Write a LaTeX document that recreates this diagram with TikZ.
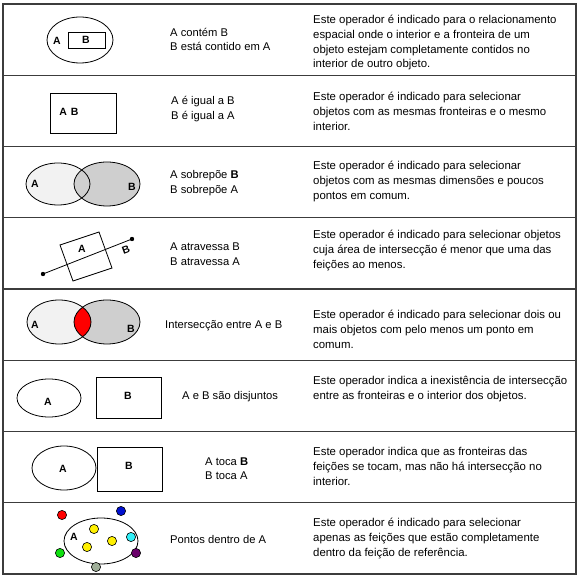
\documentclass[tikz,border=0pt]{standalone}
\usepackage{fontspec}
\setmainfont{Liberation Sans}
\usepackage{tikz}
\usetikzlibrary{positioning,shapes.geometric,calc}
\definecolor{rulegray}{HTML}{3C3C3C}
\definecolor{setlight}{HTML}{F2F2F2}
\definecolor{setdark}{HTML}{CFCFCF}
\definecolor{ptred}{HTML}{FF0000}
\definecolor{ptblue}{HTML}{0010D0}
\definecolor{ptyellow}{HTML}{FFF000}
\definecolor{ptcyan}{HTML}{30F0F8}
\definecolor{ptgreen}{HTML}{10E010}
\definecolor{ptpurple}{HTML}{6A006A}
\definecolor{ptgray}{HTML}{9FAE98}

\begin{document}
\begin{tikzpicture}[x=1pt, y=-1pt, inner sep=0pt,
  desc/.style={anchor=west, align=left, font=\fontsize{11.4}{14.8}\selectfont},
  rel/.style={anchor=west, align=left, font=\fontsize{11.2}{14.5}\selectfont},
  lbl/.style={font=\fontsize{10.5}{12}\selectfont\bfseries},
  shp/.style={draw=black, line width=0.8pt},
  pt/.style={draw=black, line width=0.6pt}]
  \useasboundingbox (0,0) rectangle (579,577);

  % table
  \draw[rulegray, line width=1.3pt] (3,4) rectangle (576,574);
  \foreach \yy in {75.25,146.5,217.75,289,360.25,431.5,502.75}
    \draw[rulegray, line width=1.2pt] (3,\yy) -- (576,\yy);

  % row 1: contem
  \draw[shp] (80,40) ellipse [x radius=33, y radius=23];
  \draw[shp] (68,32) rectangle (105,48);
  \node[lbl] (c1a) at (57,41) {A};
  \node[lbl] (c1b) at (86,40) {B};
  \node[rel] (r1) at (170,39.5) {A contém B\\B está contido em A};
  \node[desc] (d1) at (313,42.6) {Este operador é indicado para o relacionamento\\espacial onde o interior e a fronteira de um\\objeto estejam completamente contidos no\\interior de outro objeto.};

  % row 2: igual
  \draw[shp] (50,93) rectangle (116,133);
  \node[lbl] (c2) at (69,112) {A\hspace{4pt}B};
  \node[rel] (r2) at (171,109) {A é igual a B\\B é igual a A};
  \node[desc] (d2) at (313,111.6) {Este operador é indicado para selecionar\\objetos com as mesmas fronteiras e o mesmo\\interior.};

  % row 3: sobrepoe
  \fill[setlight] (58,184) ellipse [x radius=32, y radius=21];
  \fill[setdark] (107,184) ellipse [x radius=33, y radius=22];
  \draw[shp] (58,184) ellipse [x radius=32, y radius=21];
  \draw[shp] (107,184) ellipse [x radius=33, y radius=22];
  \node[lbl] (c3a) at (35,184) {A};
  \node[lbl] (c3b) at (132,187) {B};
  \node[rel] (r3) at (170,183) {A sobrepõe \textbf{B}\\B sobrepõe A};
  \node[desc] (d3) at (313,181.6) {Este operador é indicado para selecionar\\objetos com as mesmas dimensões e poucos\\pontos em comum.};

  % row 4: atravessa
  \coordinate (ls) at (43,274);
  \coordinate (le) at (132,239);
  \draw[shp] (60,245) -- (99,232) -- (112,268) -- (73,281) -- cycle;
  \draw[shp] (ls) -- (le);
  \fill (ls) circle [radius=2.2];
  \fill (le) circle [radius=2.2];
  \node[lbl] (c4a) at (82,249) {A};
  \node[lbl, rotate=20] (c4b) at (126,250) {B};
  \node[rel] (r4) at (170,254) {A atravessa B\\B atravessa A};
  \node[desc] (d4) at (313,250.6) {Este operador é indicado para selecionar objetos\\cuja área de intersecção é menor que uma das\\feições ao menos.};

  % row 5: interseccao
  \fill[setlight] (59,322) ellipse [x radius=32, y radius=22];
  \fill[setdark] (107,322) ellipse [x radius=33, y radius=22];
  \begin{scope}
    \clip (59,322) ellipse [x radius=32, y radius=22];
    \fill[red] (107,322) ellipse [x radius=33, y radius=22];
  \end{scope}
  \draw[shp] (59,322) ellipse [x radius=32, y radius=22];
  \draw[shp] (107,322) ellipse [x radius=33, y radius=22];
  \node[lbl] (c5a) at (35,325) {A};
  \node[lbl] (c5b) at (131,329) {B};
  \node[rel] (r5) at (165,326) {Intersecção entre A e B};
  \node[desc] (d5) at (313,329.6) {Este operador é indicado para selecionar dois ou\\mais objetos com pelo menos um ponto em\\comum.};

  % row 6: disjuntos
  \draw[shp] (49,398) ellipse [x radius=32, y radius=19];
  \draw[shp] (96,377) rectangle (161,418);
  \node[lbl] (c6a) at (48,402) {A};
  \node[lbl] (c6b) at (128,396) {B};
  \node[rel] (r6) at (182,397) {A e B são disjuntos};
  \node[desc] (d6) at (313,389.3) {Este operador indica a inexistência de intersecção\\entre as fronteiras e o interior dos objetos.};

  % row 7: toca
  \draw[shp] (64,468) ellipse [x radius=32, y radius=22];
  \draw[shp] (97,447) rectangle (162,491);
  \node[lbl] (c7a) at (63,469) {A};
  \node[lbl] (c7b) at (129,466) {B};
  \node[rel] (r7) at (205,468.5) {A toca \textbf{B}\\B toca A};
  \node[desc] (d7) at (313,466.6) {Este operador indica que as fronteiras das\\feições se tocam, mas não há intersecção no\\interior.};

  % row 8: pontos dentro
  \draw[shp] (101,541) ellipse [x radius=37, y radius=23];
  \node[lbl] (c8) at (74,537) {A};
  \filldraw[pt, fill=ptred] (62,515) circle [radius=4.6];
  \filldraw[pt, fill=ptblue] (121,511) circle [radius=4.6];
  \filldraw[pt, fill=ptyellow] (94,529) circle [radius=4.6];
  \filldraw[pt, fill=ptyellow] (87,547) circle [radius=4.6];
  \filldraw[pt, fill=ptyellow] (112,541) circle [radius=4.6];
  \filldraw[pt, fill=ptcyan] (131,537) circle [radius=4.6];
  \filldraw[pt, fill=ptgreen] (60,553) circle [radius=4.6];
  \filldraw[pt, fill=ptpurple] (136,553) circle [radius=4.6];
  \filldraw[pt, fill=ptgray] (96,567) circle [radius=4.6];
  \node[rel] (r8) at (170,539) {Pontos dentro de A};
  \node[desc] (d8) at (313,538.6) {Este operador é indicado para selecionar\\apenas as feições que estão completamente\\dentro da feição de referência.};
\end{tikzpicture}
\end{document}
